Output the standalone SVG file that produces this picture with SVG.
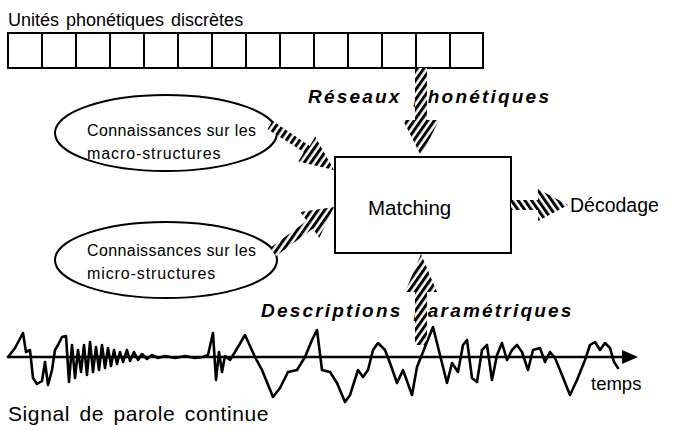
<svg xmlns="http://www.w3.org/2000/svg" width="682" height="430" viewBox="0 0 682 430">
  <style>
    .lbl { font-family: "Liberation Sans", Arial, sans-serif; fill: #000; }
    .bi { font-family: "Liberation Sans", Arial, sans-serif; font-weight: bold; font-style: italic; font-size: 19px; letter-spacing: 2.2px; fill: #000; }
    .ln { fill: none; stroke: #000; stroke-width: 2; }
    .wave { fill: none; stroke: #000; stroke-width: 2.6; stroke-linejoin: round; stroke-linecap: round; }
  </style>
  <defs>
    <!-- striped fills for the hatched arrows -->
    <pattern id="hatchBack" patternUnits="userSpaceOnUse" width="5.5" height="5.5" patternTransform="rotate(35)">
      <rect width="5.5" height="5.5" fill="#fff"/>
      <rect width="3" height="5.5" fill="#000"/>
    </pattern>
    <pattern id="hatchFwd" patternUnits="userSpaceOnUse" width="5.5" height="5.5" patternTransform="rotate(-35)">
      <rect width="5.5" height="5.5" fill="#fff"/>
      <rect width="3" height="5.5" fill="#000"/>
    </pattern>
  </defs>

  <rect width="682" height="430" fill="#fff"/>

  <!-- discrete phonetic units -->
  <g id="units">
    <text class="lbl" x="8" y="26" font-size="18" word-spacing="2">Unités phonétiques discrètes</text>
    <rect class="ln" x="8" y="33" width="475" height="35"/>
    <path class="ln" d="M42 33V68M76 33V68M110 33V68M144 33V68M178 33V68M212 33V68M246 33V68M280 33V68M314 33V68M348 33V68M382 33V68M416 33V68M450 33V68"/>
  </g>

  <g id="macro">
    <ellipse class="ln" cx="166" cy="133" rx="111" ry="38"/>
    <text class="lbl" x="87" y="136" font-size="16" letter-spacing="0.4">Connaissances sur les</text>
    <text class="lbl" x="87" y="159" font-size="16" letter-spacing="0.9">macro-structures</text>
  </g>

  <g id="micro">
    <ellipse class="ln" cx="166" cy="260" rx="111" ry="38"/>
    <text class="lbl" x="87" y="256" font-size="16" letter-spacing="0.4">Connaissances sur les</text>
    <text class="lbl" x="87" y="279" font-size="16" letter-spacing="0.9">micro-structures</text>
  </g>

  <g id="matching">
    <rect class="ln" x="335" y="157" width="176" height="96"/>
    <text class="lbl" x="368" y="215" font-size="20.5">Matching</text>
  </g>

  <g id="decodage">
    <text class="lbl" x="570" y="212" font-size="19.5">Décodage</text>
  </g>

  <g id="signal">
    <line x1="8" y1="357" x2="626" y2="357" stroke="#000" stroke-width="2.6"/>
    <polygon points="638,357 622,350 622,364" fill="#000"/>
    <polyline class="wave" points="8,357 15,348 23,333 26,352 30,350 33,378 37,384 42,381 45,362 48,385 52,370 55,350 58,345 62,337 66,336 69,382 72,345 75,378 78,350 81,372 84,345 87,375 90,342 93,372 96,347 99,370 102,345 105,368 108,348 111,366 114,350 117,364 120,352 123,362 127,350 130,361 134,352 138,360 142,354 147,359 152,355 158,358 165,356 175,358 185,356 195,358 203,357 208,355 213,333 216,380 219,352 222,372 225,356 230,360 235,352 245,335 255,357 262,370 273,397 280,388 288,372 297,370 305,357 312,340 317,330 322,370 330,372 337,383 345,402 350,395 358,370 363,377 368,370 373,350 378,343 385,350 390,363 397,383 403,370 412,395 417,367 423,352 433,327 442,363 447,383 452,363 458,372 463,345 467,340 472,378 477,382 482,350 487,345 492,380 497,355 502,343 507,360 512,350 517,345 522,352 528,370 533,350 540,348 545,362 550,352 555,358 562,375 570,395 577,380 585,360 590,345 595,342 600,350 605,343 610,348 614,362 618,368"/>
    <text class="lbl" x="591" y="390" font-size="18.5">temps</text>
    <text class="lbl" x="8" y="421" font-size="21" word-spacing="3" letter-spacing="0.6">Signal de parole continue</text>
  </g>

  <!-- hatched connectors and their labels -->
  <g id="connectors">
    <text class="bi" x="308" y="103">Réseaux</text>
    <text class="bi" x="414" y="103">phonétiques</text>
    <polygon fill="url(#hatchBack)" points="415,68 427,68 427,120 439,120 421,156 403,120 415,120"/>

    <polygon fill="url(#hatchBack)" points="267.5,129.3 303.8,151.9 298.4,161.6 334,170 315.2,136.4 309.7,146.0 272.5,120.7"/>
    <polygon fill="url(#hatchBack)" points="276,256 312.8,228.8 319.3,237.7 334,207 300.3,211.9 306.8,220.8 270,248"/>

    <polygon fill="url(#hatchFwd)" points="511,200 538,200 538,189 568,205 538,221 538,210 511,210"/>

    <text class="bi" x="261" y="317">Descriptions</text>
    <text class="bi" x="414" y="317">paramétriques</text>
    <polygon fill="url(#hatchBack)" points="421,254 437,292 427,292 427,345 415,345 415,292 405,292"/>
  </g>
</svg>
